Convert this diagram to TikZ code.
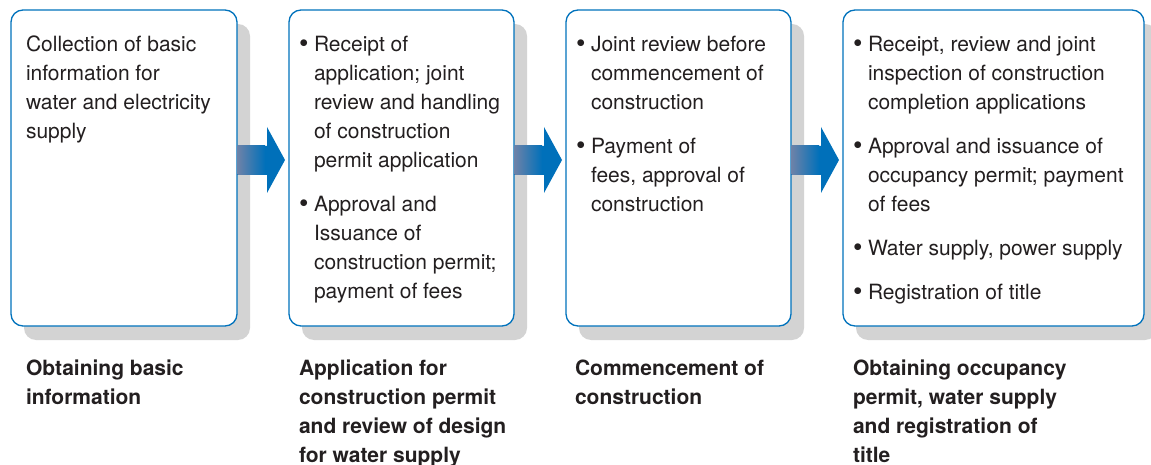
\documentclass[tikz,border=0pt]{standalone}
\usepackage{fontspec}
\setmainfont{TeX Gyre Heros}
\usetikzlibrary{positioning,calc,shadows}

\definecolor{boxblue}{RGB}{0,114,188}
\definecolor{arrowblue}{RGB}{0,112,186}
\definecolor{arrowgray}{RGB}{108,130,168}
\definecolor{shadowgray}{RGB}{211,211,211}
\definecolor{textgray}{RGB}{35,31,32}

\newcommand\bul{\makebox[15pt][l]{\raisebox{-1.6pt}{\fontsize{27}{29}\selectfont\textbullet}}}
\newcommand\ind{\hspace*{15pt}}
% block arrow from one box to the next
\newcommand\blockarrow[2]{%
	\fill[arrowblue] ($(#1.east)+(0,-22)$) -- ($(#1.east)+(30,-22)$) -- ($(#1.east)+(30,-41)$)
		-- ($(#2.west)+(-4,-8)$) -- ($(#1.east)+(30,25)$) -- ($(#1.east)+(30,7)$) -- ($(#1.east)+(0,7)$) -- cycle;
	\shade[left color=arrowgray, right color=arrowblue] ($(#1.east)+(0.6,-22)$) rectangle ($(#1.east)+(28,7)$);}

\tikzset{
	stagebox/.style={draw=boxblue, line width=1.3pt, rounded corners=12pt, fill=white,
		inner sep=0pt, outer sep=0pt, minimum height=316pt,
		drop shadow={shadow xshift=13pt, shadow yshift=-14pt, fill=shadowgray, opacity=1}},
	boxtext/.style={align=left, inner sep=0pt, outer sep=0pt, text=textgray,
		font=\fontsize{21}{29}\selectfont},
	stagelabel/.style={boxtext, font=\fontsize{21}{29}\selectfont\bfseries},
}

\begin{document}
\begin{tikzpicture}[x=1pt, y=-1pt]
	\useasboundingbox (0,0) rectangle (1151,465);
	% boxes
	\node[stagebox, minimum width=226pt] (box1) at (124,168) {};
	\node[stagebox, minimum width=225pt, right=52pt of box1] (box2) {};
	\node[stagebox, minimum width=225pt, right=52pt of box2] (box3) {};
	\node[stagebox, minimum width=301pt, right=52pt of box3] (box4) {};
	% arrows
	\blockarrow{box1}{box2}
	\blockarrow{box2}{box3}
	\blockarrow{box3}{box4}
	% box texts
	\node[boxtext, below right=26pt and 15pt of box1.north west] (txt1)
		{Collection of basic\\ information for\\ water and electricity\\ supply};
	\node[boxtext, below right=26pt and 10pt of box2.north west] (txt2)
		{\bul Receipt of\\ \ind application; joint\\ \ind review and handling\\ \ind of construction\\ \ind permit application\\[15pt]
		 \bul Approval and\\ \ind Issuance of\\ \ind construction permit;\\ \ind payment of fees};
	\node[boxtext, below right=26pt and 10pt of box3.north west] (txt3)
		{\bul Joint review before\\ \ind commencement of\\ \ind construction\\[15pt]
		 \bul Payment of\\ \ind fees, approval of\\ \ind construction};
	\node[boxtext, below right=26pt and 10pt of box4.north west] (txt4)
		{\bul Receipt, review and joint\\ \ind inspection of construction\\ \ind completion applications\\[15pt]
		 \bul Approval and issuance of\\ \ind occupancy permit; payment\\ \ind of fees\\[15pt]
		 \bul Water supply, power supply\\[15pt]
		 \bul Registration of title};
	% lables
	\node[stagelabel, below right=34pt and 15pt of box1.south west] (lab1)
		{Obtaining basic\\ information};
	\node[stagelabel, below right=34pt and 10pt of box2.south west] (lab2)
		{Application for\\ construction permit\\ and review of design\\ for water supply};
	\node[stagelabel, below right=34pt and 9pt of box3.south west] (lab3)
		{Commencement of\\ construction};
	\node[stagelabel, below right=34pt and 10pt of box4.south west] (lab4)
		{Obtaining occupancy\\ permit, water supply\\ and registration of\\ title};
\end{tikzpicture}
\end{document}
